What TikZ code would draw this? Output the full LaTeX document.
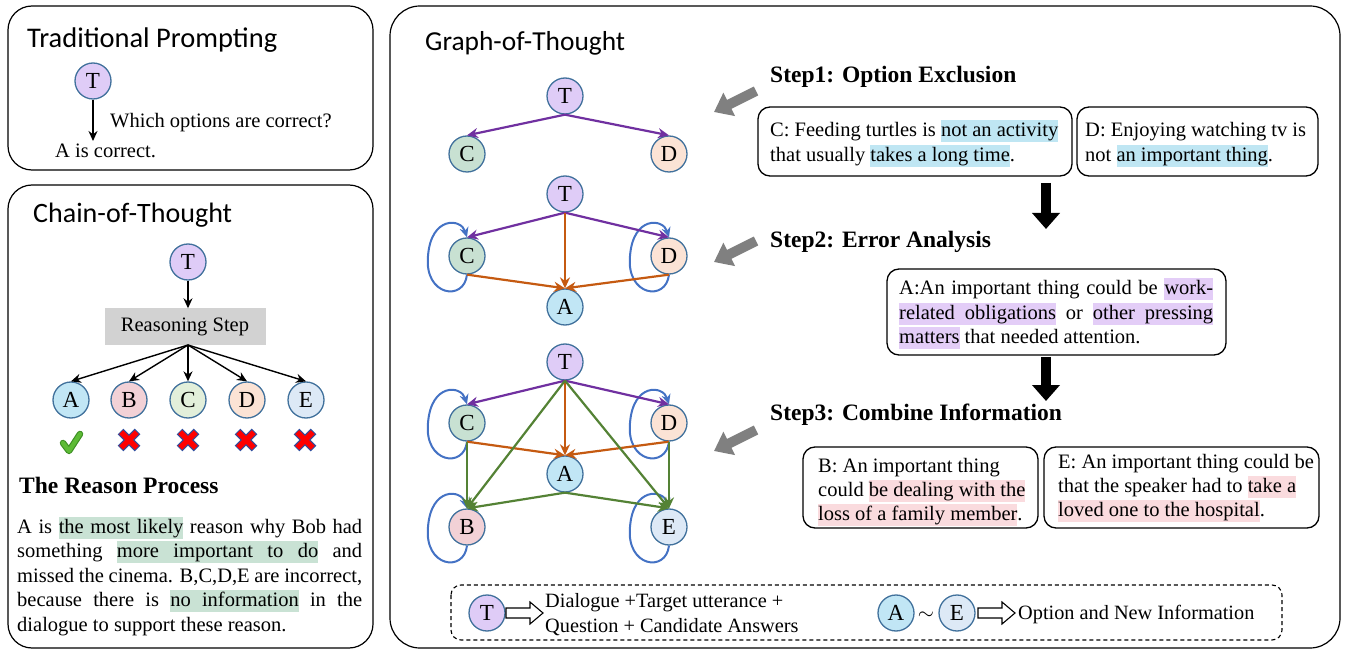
\documentclass[tikz,border=0pt]{standalone}
\usepackage{graphicx}
\usepackage{fontspec}
\setmainfont{Liberation Serif}
\newfontfamily\handfont{Carlito}
\usetikzlibrary{arrows.meta,calc}
\definecolor{nodeb}{HTML}{41719C}
\definecolor{fT}{HTML}{DFCCF7}
\definecolor{fA}{HTML}{C1E6F5}
\definecolor{fB}{HTML}{F2D1D6}
\definecolor{fC}{HTML}{E2EFDA}
\definecolor{fCg}{HTML}{C8E1D2}
\definecolor{fD}{HTML}{FBE3D5}
\definecolor{fE}{HTML}{DDE9F6}
\definecolor{epurple}{HTML}{7030A0}
\definecolor{eorange}{HTML}{C55A11}
\definecolor{egreen}{HTML}{548235}
\definecolor{eblue}{HTML}{4472C4}
\definecolor{hlgreen}{HTML}{C9E2D4}
\definecolor{hlblue}{HTML}{BFE6F3}
\definecolor{hlpurple}{HTML}{E3CDF7}
\definecolor{hlpink}{HTML}{FADBDE}
\definecolor{grayarrow}{HTML}{808080}
\definecolor{chkgreen}{HTML}{5DBB35}
\definecolor{chkdark}{HTML}{3E9025}
\definecolor{xblue}{HTML}{2F4F9F}
\newcommand\hlt[2]{{\setlength{\fboxsep}{0pt}\colorbox{#1}{\vrule width 0pt height 16.5pt depth 5.5pt #2}}}
\newcommand\hls[1]{{\color{#1}\leaders\vrule height 16.5pt depth 5.5pt\hskip\fontdimen2\font plus\fontdimen3\font minus\fontdimen4\font}}
\newcommand\selfloop[1]{\draw[lp] (#1.south) .. controls ($(#1)+(-3,46)$) and ($(#1)+(-43,40)$) .. ($(#1)+(-39,0)$) .. controls ($(#1)+(-36,-40)$) and ($(#1)+(-6,-38)$) .. (#1.north);}
\newcommand\hollowarr[1]{\draw[line width=1.1pt, fill=white] ($(#1)+(0,-5)$) -- ++(24,0) -- ++(0,-6) -- ++(13,11) -- ++(-13,11) -- ++(0,-6) -- ++(-24,0) -- cycle;}
\newcommand\redx[1]{%
  \draw[line width=8pt, xblue] ($(#1)+(-8.5,-8.5)$) -- ($(#1)+(8.5,8.5)$);
  \draw[line width=8pt, xblue] ($(#1)+(-8.5,8.5)$) -- ($(#1)+(8.5,-8.5)$);
  \draw[line width=5.6pt, red] ($(#1)+(-7.8,-7.8)$) -- ($(#1)+(7.8,7.8)$);
  \draw[line width=5.6pt, red] ($(#1)+(-7.8,7.8)$) -- ($(#1)+(7.8,-7.8)$);}
\tikzset{
  txt/.style={anchor=base west, inner sep=0pt, font=\fontsize{20.5}{24.6}\selectfont},
  circ/.style={circle, draw=nodeb, line width=1.3pt, minimum size=36pt, inner sep=0pt, font=\fontsize{23}{24}\selectfont},
  panel/.style={draw=black, line width=1.2pt, rounded corners=24pt},
  tbox/.style={draw=black, line width=1.3pt, rounded corners=12pt},
  blk/.style={-{Stealth[length=10pt,width=9pt]}, line width=1.4pt, draw=black},
  ep/.style={-{Stealth[length=11pt,width=10pt]}, line width=2.2pt, draw=epurple},
  eo/.style={-{Stealth[length=11pt,width=10pt]}, line width=2.2pt, draw=eorange},
  eg/.style={-{Stealth[length=11pt,width=10pt]}, line width=2.2pt, draw=egreen},
  lp/.style={-{Stealth[length=10pt,width=9pt]}, line width=2pt, draw=eblue},
  grayarr/.style={-{Triangle[length=17pt,width=25pt]}, line width=10pt, draw=grayarrow},
  bigarr/.style={-{Triangle[length=16pt,width=27pt]}, line width=10pt, draw=black},
  ttl/.style={anchor=base west, inner sep=0pt},
  bold/.style={anchor=base west, inner sep=0pt, font=\fontsize{23.5}{26}\selectfont\bfseries},
}
\begin{document}
\begin{tikzpicture}[x=1pt,y=-1pt]
\useasboundingbox (0,0) rectangle (1347,652);
% ---------------- panels
\draw[panel] (8,6) rectangle (373,170);
\draw[panel] (8,185) rectangle (373,648);
\draw[panel, rounded corners=30pt] (390,6) rectangle (1340,648);
% ---------------- Traditional prompting
\node[ttl] (ttl1) at (27,48) {\resizebox{250pt}{!}{\handfont Traditional Prompting}};
\node[circ, fill=fT] (tpT) at (93,81) {T};
\coordinate (tpEnd) at (93,141);
\draw[blk] (tpT.south) -- (tpEnd);
\node[txt] (tpQ) at (110,128) {Which options are correct?};
\node[txt] (tpA) at (55,158) {A is correct.};
% ---------------- Chain of thought
\node[ttl] (ttl2) at (33,223) {\resizebox{199pt}{!}{\handfont Chain-of-Thought}};
\node[circ, fill=fT] (cT) at (188,262) {T};
\node[fill=gray!35, minimum width=161pt, minimum height=37pt, inner sep=0pt, font=\fontsize{20.5}{24.6}\selectfont] (rs) at (185,327) {Reasoning Step};
\coordinate (rsb) at (188,345);
\draw[blk] (cT.south) -- (cT.south |- rs.north);
\node[circ, fill=fA] (cA) at (71,400) {A};
\node[circ, fill=fB] (cB) at (129,400) {B};
\node[circ, fill=fC] (cC) at (188,400) {C};
\node[circ, fill=fD] (cD) at (247,400) {D};
\node[circ, fill=fE] (cE) at (306,400) {E};
\foreach \n in {cA,cB,cC,cD,cE} \draw[blk] (rsb) -- (\n.north);
% check and crosses
\coordinate (chk) at (71,442);
\draw[line width=6.5pt, chkdark, line cap=round, line join=round] ($(chk)+(-8,1)$) -- ($(chk)+(-2,9)$) -- ($(chk)+(9,-8)$);
\draw[line width=4.2pt, chkgreen, line cap=round, line join=round] ($(chk)+(-8,1)$) -- ($(chk)+(-2,9)$) -- ($(chk)+(9,-8)$);
\coordinate (x1) at (129,440);
\coordinate (x2) at (188,440);
\coordinate (x3) at (246,440);
\coordinate (x4) at (305,440);
\redx{x1}\redx{x2}\redx{x3}\redx{x4}
\node[bold] (rp) at (19,493) {The Reason Process};
\node[txt] (p1) at (17,533) {\makebox[345pt][s]{A is \hlt{hlgreen}{the}\hls{hlgreen}\hlt{hlgreen}{most}\hls{hlgreen}\hlt{hlgreen}{likely} reason why Bob had}};
\node[txt] (p2) at (17,557.5) {\makebox[345pt][s]{something \hlt{hlgreen}{more}\hls{hlgreen}\hlt{hlgreen}{important}\hls{hlgreen}\hlt{hlgreen}{to}\hls{hlgreen}\hlt{hlgreen}{do} and}};
\node[txt] (p3) at (17,582) {\makebox[345pt][s]{missed the cinema. B,C,D,E are incorrect,}};
\node[txt] (p4) at (17,606.5) {\makebox[345pt][s]{because there is \hlt{hlgreen}{no}\hls{hlgreen}\hlt{hlgreen}{information} in the}};
\node[txt] (p5) at (17,631) {dialogue to support these reason.};
% ---------------- Graph of thought
\node[ttl] (ttl3) at (425,51) {\resizebox{200pt}{!}{\handfont Graph-of-Thought}};
% graph 1
\node[circ, fill=fT] (g1T) at (565,96) {T};
\node[circ, fill=fCg] (g1C) at (467,154) {C};
\node[circ, fill=fD] (g1D) at (669,154) {D};
\draw[ep] (g1T.south) -- (g1C.north);
\draw[ep] (g1T.south) -- (g1D.north);
% graph 2
\node[circ, fill=fT] (g2T) at (565,194) {T};
\node[circ, fill=fCg] (g2C) at (467,256) {C};
\node[circ, fill=fD] (g2D) at (669,256) {D};
\node[circ, fill=fA] (g2A) at (565,307) {A};
\selfloop{g2C}
\selfloop{g2D}
\draw[ep] (g2T.south) -- (g2C.north);
\draw[ep] (g2T.south) -- (g2D.north);
\draw[eo] (g2T.south) -- (g2A.north);
\draw[eo] (g2C.south) -- (g2A.north);
\draw[eo] (g2D.south) -- (g2A.north);
% graph 3
\node[circ, fill=fT] (g3T) at (565,362) {T};
\node[circ, fill=fCg] (g3C) at (467,423) {C};
\node[circ, fill=fD] (g3D) at (669,423) {D};
\node[circ, fill=fA] (g3A) at (565,474) {A};
\node[circ, fill=fB] (g3B) at (467,527) {B};
\node[circ, fill=fE] (g3E) at (669,527) {E};
\selfloop{g3C}
\selfloop{g3D}
\selfloop{g3B}
\selfloop{g3E}
\draw[ep] (g3T.south) -- (g3C.north);
\draw[ep] (g3T.south) -- (g3D.north);
\draw[eo] (g3T.south) -- (g3A.north);
\draw[eo] (g3C.south) -- (g3A.north);
\draw[eo] (g3D.south) -- (g3A.north);
\draw[eg] (g3T.south) -- (g3B.north);
\draw[eg] (g3T.south) -- (g3E.north);
\draw[eg] (g3C.south) -- (g3B.north);
\draw[eg] (g3D.south) -- (g3E.north);
\draw[eg] (g3A.south) -- (g3B.north);
\draw[eg] (g3A.south) -- (g3E.north);
% gray arrows
\coordinate (ga1s) at (756,91);  \coordinate (ga1e) at (714,112);
\coordinate (ga2s) at (756,241); \coordinate (ga2e) at (714,262);
\coordinate (ga3s) at (756,430); \coordinate (ga3e) at (714,451);
\draw[grayarr] (ga1s) -- (ga1e);
\draw[grayarr] (ga2s) -- (ga2e);
\draw[grayarr] (ga3s) -- (ga3e);
% step 1
\node[bold] (s1) at (770,83) {Step1: Option Exclusion};
\draw[tbox] (758,107) rectangle (1072,176);
\node[txt] (c1) at (770,137) {C: Feeding turtles is \hlt{hlblue}{not an activity}};
\node[txt] (c2) at (770,162) {that usually \hlt{hlblue}{takes a long time}.};
\draw[tbox] (1077,107) rectangle (1318,176);
\node[txt] (d1) at (1085,137) {D: Enjoying watching tv is};
\node[txt] (d2) at (1085,162) {not \hlt{hlblue}{an important thing}.};
\coordinate (ba1s) at (1046,183); \coordinate (ba1e) at (1046,229);
\draw[bigarr] (ba1s) -- (ba1e);
% step 2
\node[bold] (s2) at (770,248) {Step2: Error Analysis};
\draw[tbox] (887,269) rectangle (1226,355);
\node[txt] (a1) at (899,295) {\makebox[314pt][s]{A:An important thing could be \hlt{hlpurple}{work-}}};
\node[txt] (a2) at (899,319.5) {\makebox[314pt][s]{\hlt{hlpurple}{related}\hls{hlpurple}\hlt{hlpurple}{obligations} or \hlt{hlpurple}{other}\hls{hlpurple}\hlt{hlpurple}{pressing}}};
\node[txt] (a3) at (899,344) {\hlt{hlpurple}{matters} that needed attention.};
\coordinate (ba2s) at (1046,357); \coordinate (ba2e) at (1046,401);
\draw[bigarr] (ba2s) -- (ba2e);
% step 3
\node[bold] (s3) at (770,420) {Step3: Combine Information};
\draw[tbox] (803,447) rectangle (1038,528);
\node[txt] (b1) at (818,472) {B: An important thing};
\node[txt] (b2) at (818,496) {could \hlt{hlpink}{be dealing with the}};
\node[txt] (b3) at (818,520) {\hlt{hlpink}{loss of a family member}.};
\draw[tbox] (1044,447) rectangle (1319,528);
\node[txt] (e1) at (1058,468) {E: An important thing could be};
\node[txt] (e2) at (1058,492) {that the speaker had to \hlt{hlpink}{take a}};
\node[txt] (e3) at (1058,516) {\hlt{hlpink}{loved one to the hospital}.};
% legend
\draw[line width=1.1pt, dashed, dash pattern=on 4pt off 3pt, rounded corners=10pt] (451,585) rectangle (1282,640);
\node[circ, fill=fT] (lgT) at (487,613) {T};
\coordinate (la1) at (506,613);
\hollowarr{la1}
\node[txt, font=\fontsize{20.3}{23}\selectfont] (lg1) at (545,607) {Dialogue +Target utterance +};
\node[txt, font=\fontsize{20.3}{23}\selectfont] (lg2) at (545,632) {Question + Candidate Answers};
\node[circ, fill=fA] (lgA) at (896,613) {A};
\node[inner sep=0pt, font=\fontsize{20}{22}\selectfont] (lgt) at (926,616) {$\sim$};
\node[circ, fill=fE] (lgE) at (957,613) {E};
\coordinate (la2) at (978,613);
\hollowarr{la2}
\node[txt, font=\fontsize{20.3}{23}\selectfont] (lg3) at (1018,619) {Option and New Information};
\end{tikzpicture}
\end{document}
